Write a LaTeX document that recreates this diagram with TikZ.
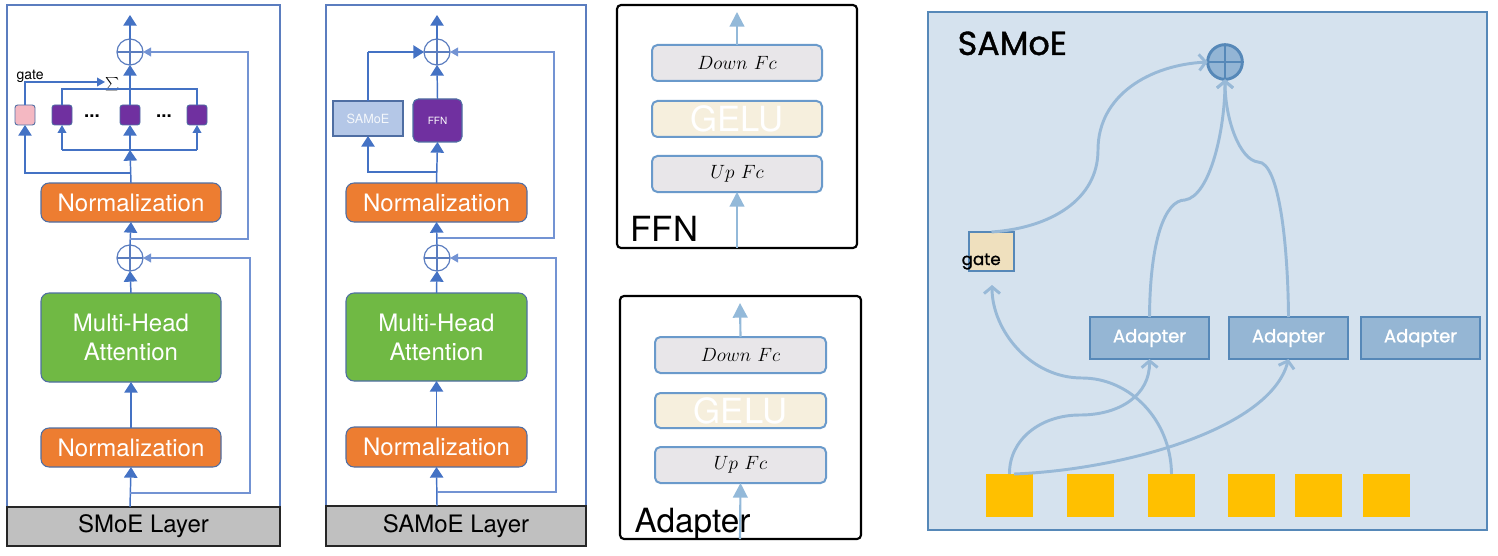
\documentclass[tikz,border=0pt]{standalone}
\usepackage{fontspec}
\usetikzlibrary{arrows.meta,fit,calc}
\newfontfamily\heros{TeX Gyre Heros}
\newfontfamily\pop{Poppins}
\newfontfamily\popm[FakeBold=1.2]{Poppins}
\definecolor{framebl}{HTML}{5B7DBF}
\definecolor{arrbl}{HTML}{4472C4}
\definecolor{loopbl}{HTML}{7393D3}
\definecolor{nodebord}{HTML}{4F6EA3}
\definecolor{normor}{HTML}{ED7D31}
\definecolor{mhagreen}{HTML}{70B944}
\definecolor{bandgray}{HTML}{C0C0C0}
\definecolor{purp}{HTML}{7030A0}
\definecolor{pinkg}{HTML}{F4B8C2}
\definecolor{samoelt}{HTML}{B4C7E7}
\definecolor{fcfill}{HTML}{E8E6E9}
\definecolor{fcbord}{HTML}{6A9ACB}
\definecolor{gelufill}{HTML}{F6EFDD}
\definecolor{fcarr}{HTML}{93B9D9}
\definecolor{sbg}{HTML}{D5E2EE}
\definecolor{sbord}{HTML}{5688B8}
\definecolor{sline}{HTML}{98B9D7}
\definecolor{adfill}{HTML}{95B6D4}
\definecolor{gatefill}{HTML}{EFE0BE}
\definecolor{tok}{HTML}{FFC000}
\definecolor{opfill}{HTML}{93B5D5}
\tikzset{
  nb/.style={inner sep=0pt, outer sep=0pt},
  lay/.style={nb, draw=nodebord, line width=0.8pt, rounded corners=6pt},
  laytxt/.style={nb, text=white, font=\heros\fontsize{18}{21.75}\selectfont, align=center},
  norm/.style={lay, fill=normor},
  mha/.style={lay, fill=mhagreen},
  band/.style={nb, draw=black!85, line width=1.1pt, fill=bandgray},
  bandtxt/.style={nb, font=\heros\fontsize{18}{20}\selectfont},
  panelframe/.style={draw=framebl, line width=1.1pt},
  oplus/.style={nb, circle, draw=framebl, line width=0.9pt, minimum size=19.5pt},
  arr/.style={draw=arrbl, line width=1.1pt, -{Triangle[length=8pt,width=10pt]}},
  arrs/.style={draw=arrbl, line width=1.1pt, -{Triangle[length=6pt,width=6.5pt]}},
  ln/.style={draw=arrbl, line width=1.1pt},
  resid/.style={draw=loopbl, line width=1.1pt, -{Triangle[length=6pt,width=6.5pt]}},
  expert/.style={nb, draw=nodebord, line width=0.7pt, rounded corners=2pt, fill=purp, minimum size=15pt},
  gatep/.style={expert, fill=pinkg},
  dots/.style={nb, font=\heros\bfseries\fontsize{14}{14}\selectfont},
  fcbox/.style={nb, draw=fcbord, line width=1.5pt, rounded corners=4pt, fill=fcfill},
  fctxt/.style={nb, font=\fontsize{14.4}{16}\selectfont},
  gelubox/.style={fcbox, fill=gelufill},
  gelutxt/.style={nb, text=white, font=\heros\fontsize{26}{28}\selectfont},
  fcarrow/.style={draw=fcarr, line width=1.6pt, -{Triangle[length=11pt,width=11pt]}},
  blackframe/.style={draw=black, line width=1.6pt, rounded corners=3pt},
  sarr/.style={draw=sline, line width=2.2pt, -{Straight Barb[length=5pt,width=12pt]}},
  adbox/.style={nb, draw=sbord, line width=2.2pt, fill=adfill},
  adtxt/.style={nb, text=white, font=\popm\fontsize{13.5}{15}\selectfont},
  tokbox/.style={nb, fill=tok, minimum width=35.25pt, minimum height=32.25pt},
}
\begin{document}
\begin{tikzpicture}[x=0.75pt,y=-0.75pt]
\useasboundingbox (0,0) rectangle (1498,556);

%================ Panel 1: SMoE Layer
\draw[panelframe] (7,5) rectangle (280,546);
\node[band, fit={(7,507)(280,546)}] (b1) {};
\node[bandtxt] (b1t) at (b1.center) {SMoE Layer};
\node[norm, fit={(41,428)(221,467)}] (n10) {};
\node[laytxt] (n10t) at (n10.center) {Normalization};
\node[mha, fit={(41,293)(221,382)}] (m1) {};
\node[laytxt] (m1t) at (m1.center) {Multi-Head\\Attention};
\node[norm, fit={(41,183)(221,222)}] (n11) {};
\node[laytxt] (n11t) at (n11.center) {Normalization};
\node[oplus] (oL1) at (130,258) {};
\node[oplus] (oT1) at (130,52) {};
\draw[framebl, line width=0.9pt] (oL1.north) -- (oL1.south) (oL1.west) -- (oL1.east);
\draw[framebl, line width=0.9pt] (oT1.north) -- (oT1.south) (oT1.west) -- (oT1.east);
\node[gatep] (g1) at (25,115) {};
\node[expert] (e1) at (62,115) {};
\node[expert] (e2) at (130,115) {};
\node[expert] (e3) at (197,115) {};
\node[dots] (dt1) at (92,116) {...};
\node[dots] (dt2) at (164,116) {...};
\node[anchor=base west, font=\heros\fontsize{10.5}{12}\selectfont] (gt1) at (12,80) {gate};
\node[font=\fontsize{9}{10}\selectfont] (s1) at (113,84) {$\sum$};
\coordinate (in1) at (130,507);
\coordinate (d1) at (130,150);
\coordinate (dl1) at (62,150);
\coordinate (dr1) at (197,150);
\coordinate (gb1) at (130,173);
\coordinate (cm1) at (130,89);
\coordinate (cr1) at (197,89);
\coordinate (sig1) at (105,82);
\coordinate (r1a) at (130,493);
\coordinate (r1c) at (250,258);
\coordinate (r2a) at (130,239);
\coordinate (r2c) at (248,52);
\coordinate (out1) at (130,15);
\draw[arr] (in1) -- (n10.south);
\draw[arr] (n10.north) -- (m1.south);
\draw[arr] (m1.north) -- (oL1.south);
\draw[arr] (oL1.north) -- (n11.south);
\draw[arr] (n11.north) -- (d1);
\draw[ln] (dl1) -- (dr1);
\draw[arrs] (dl1) -- (e1.south);
\draw[arr] (d1) -- (e2.south);
\draw[arrs] (dr1) -- (e3.south);
\draw[arr] (gb1) -| (g1.south);
\draw[ln] (e1.north) |- (cr1) -- (e3.north);
\draw[ln] (e2.north) -- (cm1);
\draw[arr] (cm1) -- (oT1.south);
\draw[arrs] (g1.north) |- (sig1);
\draw[resid] (r1a) -| (r1c) -- (oL1.east);
\draw[resid] (r2a) -| (r2c) -- (oT1.east);
\draw[arr] (oT1.north) -- (out1);

%================ Panel 2: SAMoE Layer
\draw[panelframe] (326,5) rectangle (586,546);
\node[band, fit={(326,506)(586,546)}] (b2) {};
\node[bandtxt] (b2t) at (b2.center) {SAMoE Layer};
\node[norm, fit={(346,427)(527,467)}] (n20) {};
\node[laytxt] (n20t) at (n20.center) {Normalization};
\node[mha, fit={(346,293)(527,381)}] (m2) {};
\node[laytxt] (m2t) at (m2.center) {Multi-Head\\Attention};
\node[norm, fit={(346,183)(527,222)}] (n21) {};
\node[laytxt] (n21t) at (n21.center) {Normalization};
\node[oplus] (oL2) at (437,258) {};
\node[oplus] (oT2) at (437,52) {};
\draw[framebl, line width=0.9pt] (oL2.north) -- (oL2.south) (oL2.west) -- (oL2.east);
\draw[framebl, line width=0.9pt] (oT2.north) -- (oT2.south) (oT2.west) -- (oT2.east);
\node[nb, draw=nodebord, line width=0.8pt, fill=samoelt, fit={(333,101)(403,136)}] (sa2) {};
\node[nb, text=white!85!samoelt, font=\heros\fontsize{9.5}{11}\selectfont] (sa2t) at (sa2.center) {SAMoE};
\node[nb, draw=nodebord, line width=0.8pt, rounded corners=4pt, fill=purp, fit={(413,99)(462,142)}] (ff2) {};
\node[nb, text=white, font=\heros\fontsize{7.5}{9}\selectfont] (ff2t) at (ff2.center) {FFN};
\coordinate (in2) at (437,506);
\coordinate (br2) at (437,172);
\coordinate (sc2) at (368,52);
\coordinate (q1a) at (437,492);
\coordinate (q1c) at (556,258);
\coordinate (q2a) at (437,238);
\coordinate (q2c) at (554,52);
\coordinate (out2) at (437,15);
\draw[arr] (in2) -- (n20.south);
\draw[arr] (n20.north) -- (m2.south);
\draw[arr] (m2.north) -- (oL2.south);
\draw[arr] (oL2.north) -- (n21.south);
\draw[arr] (n21.north) -- (ff2.south);
\draw[arr] (br2) -| (sa2.south);
\draw[ln] (sa2.north) -- (sc2);
\draw[arr] (sc2) -- (oT2.west);
\draw[arr] (ff2.north) -- (oT2.south);
\draw[resid] (q1a) -| (q1c) -- (oL2.east);
\draw[resid] (q2a) -| (q2c) -- (oT2.east);
\draw[arr] (oT2.north) -- (out2);

%================ Panel 3: FFN
\draw[blackframe] (617,5) rectangle (857,248);
\node[fcbox, fit={(652,45)(822,81)}] (fd) {};
\node[fctxt] (fdt) at (fd.center) {$Down\ Fc$};
\node[gelubox, fit={(652,101)(822,137)}] (fg) {};
\node[gelutxt] (fgt) at (fg.center) {GELU};
\node[fcbox, fit={(652,156)(822,192)}] (fu) {};
\node[fctxt] (fut) at (fu.center) {$Up\ Fc$};
\node[anchor=base west, font=\heros\fontsize{26}{28}\selectfont] (fl) at (626,241) {FFN};
\coordinate (fin) at (737,248);
\coordinate (fout) at (737,12);
\draw[fcarrow] (fin) -- (fu.south);
\draw[fcarrow] (fd.north) -- (fout);

%================ Panel 4: Adapter
\draw[blackframe] (620,296) rectangle (861,539);
\node[fcbox, fit={(655,337)(826,373)}] (ad) {};
\node[fctxt] (adt) at (ad.center) {$Down\ Fc$};
\node[gelubox, fit={(655,393)(826,428)}] (ag) {};
\node[gelutxt] (agt) at (ag.center) {GELU};
\node[fcbox, fit={(655,447)(826,483)}] (au) {};
\node[fctxt] (aut) at (au.center) {$Up\ Fc$};
\node[anchor=base west, font=\heros\fontsize{25}{27}\selectfont] (al) at (630,532) {Adapter};
\coordinate (ain) at (740,539);
\coordinate (aout) at (740,303);
\draw[fcarrow] (ain) -- (au.south);
\draw[fcarrow] (ad.north) -- (aout);

%================ Panel 5: SAMoE
\draw[fill=sbg, draw=sbord, line width=2.2pt] (928,12) rectangle (1487,530);
\node[anchor=base west, font=\popm\fontsize{25}{27}\selectfont] (st) at (953,55) {SAMoE};
\node[nb, circle, fill=opfill, draw=sbord, line width=2.2pt, minimum size=26pt] (o5) at (1225,62) {};
\draw[sbord, line width=2.2pt] (o5.north) -- (o5.south) (o5.west) -- (o5.east);
\node[nb, fill=gatefill, draw=sbord, line width=2pt, fit={(969,232)(1014,271)}] (gt5) {};
\node[anchor=base west, font=\popm\fontsize{12.5}{14}\selectfont] (gl5) at (957,265) {gate};
\node[adbox, fit={(1090,317)(1209,359)}] (a1) {};
\node[adtxt] (a1t) at (a1.center) {Adapter};
\node[adbox, fit={(1229,317)(1348,359)}] (a2) {};
\node[adtxt] (a2t) at (a2.center) {Adapter};
\node[adbox, fit={(1361,317)(1480,359)}] (a3) {};
\node[adtxt] (a3t) at (a3.center) {Adapter};
\node[tokbox] (t1) at (1009.5,495.5) {};
\node[tokbox] (t2) at (1090.5,495.5) {};
\node[tokbox] (t3) at (1171.5,495.5) {};
\node[tokbox] (t4) at (1251.5,495.5) {};
\node[tokbox] (t5) at (1318.5,495.5) {};
\node[tokbox] (t6) at (1386.5,495.5) {};
\coordinate (gin) at (992,285);
\coordinate (t1b) at (1014,474);
\draw[sarr] (gt5.north) .. controls (1050,228) and (1098,200) .. (1098,150)
   .. controls (1098,95) and (1150,65) .. (o5.west);
\draw[sarr] (a1.north) .. controls (1150,240) and (1165,200) .. (1185,200)
   .. controls (1210,196) and (1225,130) .. (o5.south);
\draw[sarr] (a2.north) .. controls (1288,250) and (1280,162) .. (1258,162)
   .. controls (1240,160) and (1225,120) .. (o5.south);
\draw[sarr] (t1.north) .. controls (1009,440) and (1040,415) .. (1080,415)
   .. controls (1120,415) and (1150,395) .. (a1.south);
\draw[sarr] (t1b) .. controls (1120,470) and (1270,430) .. (a2.south);
\draw[sarr] (t3.north) .. controls (1171,420) and (1130,378) .. (1082,378)
   .. controls (1030,378) and (992,330) .. (gin);
\end{tikzpicture}
\end{document}
